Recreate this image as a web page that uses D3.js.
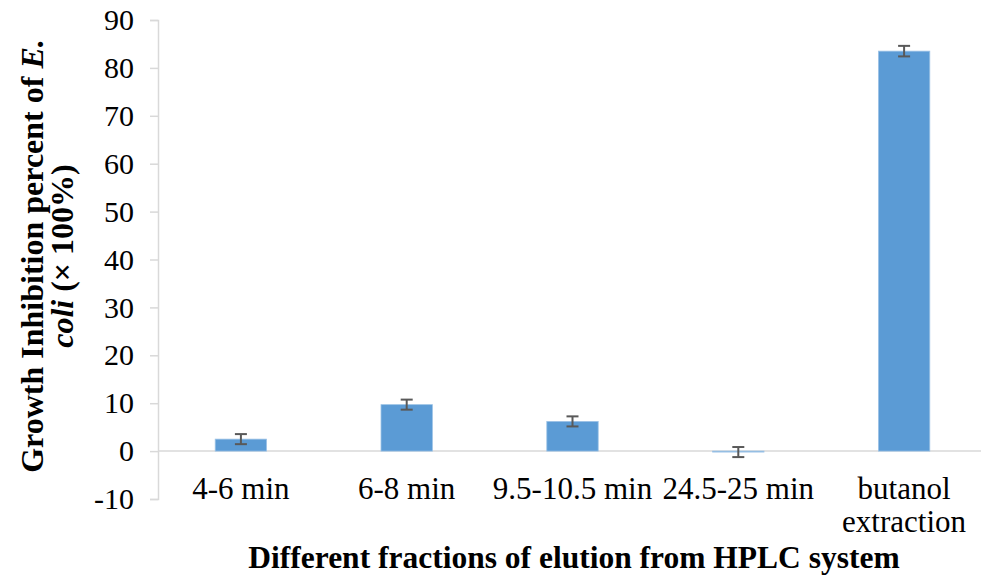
<!DOCTYPE html>
<html>
<head>
<meta charset="utf-8">
<script src="https://cdn.jsdelivr.net/npm/d3@7"></script>
<style>
  html, body { margin: 0; padding: 0; background: #fff; }
  svg { display: block; }
</style>
</head>
<body>
<svg id="chart" width="981" height="586" font-family="Liberation Serif, Times New Roman, serif"></svg>
<script>
// Growth inhibition of E. coli by HPLC elution fractions
const categories = ["4-6 min", "6-8 min", "9.5-10.5 min", "24.5-25 min", "butanol extraction"];
const categoryLines = [["4-6 min"], ["6-8 min"], ["9.5-10.5 min"], ["24.5-25 min"], ["butanol", "extraction"]];
const inhibition = [2.5, 9.7, 6.2, -0.2, 83.5];
const errors = [1.05, 1.05, 1.05, 1.05, 1.1];
const yTicks = [-10, 0, 10, 20, 30, 40, 50, 60, 70, 80, 90];

const serif = "Liberation Serif, Times New Roman, serif";
const svg = d3.select("#chart");
const W = 981;

const x = d3.scaleBand()
  .domain(categories)
  .range([158, 987])
  .paddingInner(0.69)
  .paddingOuter(0.345);

const y = d3.scaleLinear().domain([-10, 90]).range([499, 20]);

const axisColor = "#d9d9d9";

// y axis
const yAxis = svg.append("g")
  .attr("transform", "translate(158,0)")
  .call(d3.axisLeft(y).tickValues(yTicks).tickSize(8).tickPadding(16).tickFormat(d => String(d)));
yAxis.attr("font-family", serif).attr("font-size", 30);
yAxis.select(".domain").attr("stroke", axisColor).attr("stroke-width", 1.5);
yAxis.selectAll(".tick line").attr("stroke", axisColor).attr("stroke-width", 1.5);
yAxis.selectAll(".tick text").attr("fill", "#000");

// zero baseline
svg.append("line")
  .attr("x1", 158).attr("x2", W)
  .attr("y1", y(0)).attr("y2", y(0))
  .attr("stroke", axisColor).attr("stroke-width", 1.5);

const data = categories.map((c, i) => ({ c, v: inhibition[i], e: errors[i] }));

// bars
svg.append("g").selectAll("rect")
  .data(data)
  .join("rect")
  .attr("x", d => x(d.c))
  .attr("width", x.bandwidth())
  .attr("y", d => y(Math.max(0, d.v)))
  .attr("height", d => Math.abs(y(d.v) - y(0)))
  .attr("fill", "#5b9bd5")
  .attr("stroke", "#9dc3e6")
  .attr("stroke-width", 0.8);

// error bars
const eg = svg.append("g").attr("stroke", "#595959").attr("stroke-width", 2).attr("fill", "none");
data.forEach(d => {
  const cx = x(d.c) + x.bandwidth() / 2;
  const top = y(d.v + d.e), bot = y(d.v - d.e);
  eg.append("line").attr("x1", cx).attr("x2", cx).attr("y1", top).attr("y2", bot);
  eg.append("line").attr("x1", cx - 6).attr("x2", cx + 6).attr("y1", top).attr("y2", top);
  eg.append("line").attr("x1", cx - 6).attr("x2", cx + 6).attr("y1", bot).attr("y2", bot);
});

// category labels
const xl = svg.append("g").attr("font-family", serif).attr("font-size", 31);
categories.forEach((c, i) => {
  const cx = x(c) + x.bandwidth() / 2;
  const t = xl.append("text")
    .attr("x", cx)
    .attr("y", 499)
    .attr("text-anchor", "middle");
  categoryLines[i].forEach((line, j) => {
    t.append("tspan")
      .attr("x", cx)
      .attr("dy", j === 0 ? 0 : 33)
      .text(line);
  });
});

// x axis title
svg.append("text")
  .attr("x", 574)
  .attr("y", 568)
  .attr("text-anchor", "middle")
  .attr("font-family", serif)
  .attr("font-size", 31.5)
  .attr("font-weight", "bold")
  .text("Different fractions of elution from HPLC system");

// y axis title (two lines)
const yt = svg.append("g")
  .attr("transform", "translate(0,256) rotate(-90)")
  .attr("font-family", serif)
  .attr("font-size", 32)
  .attr("font-weight", "bold")
  .attr("text-anchor", "middle");
const l1 = yt.append("text").attr("x", 0).attr("y", 43);
l1.append("tspan").text("Growth Inhibition percent of ");
l1.append("tspan").attr("font-style", "italic").text("E.");
const l2 = yt.append("text").attr("x", 0).attr("y", 73);
l2.append("tspan").attr("font-style", "italic").text("coli");
l2.append("tspan").text(" (× 100%)");
</script>
</body>
</html>
